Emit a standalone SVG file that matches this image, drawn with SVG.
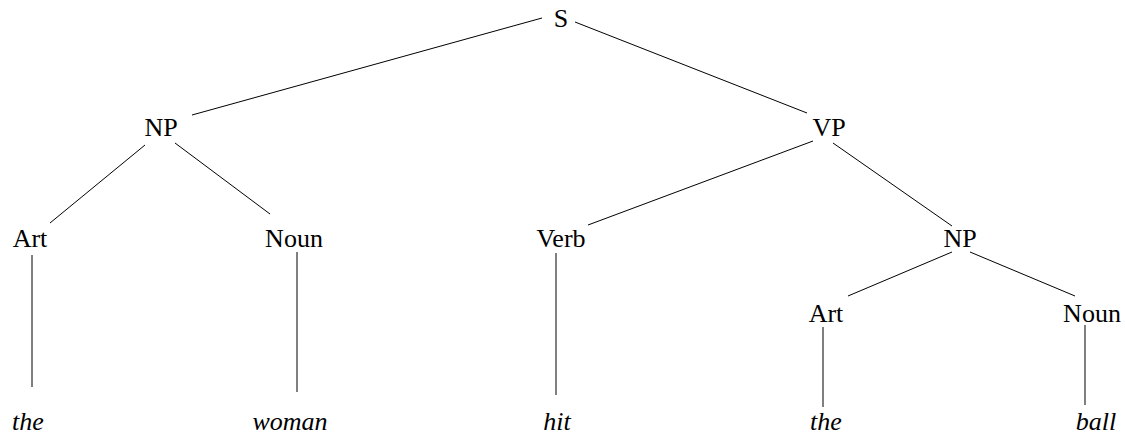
<svg xmlns="http://www.w3.org/2000/svg" width="1125" height="435" viewBox="0 0 1125 435">
<style>
text{font-family:'Liberation Serif','Times New Roman',Times,serif;font-size:26px;fill:#000;text-anchor:middle}
.leaf{font-style:italic}
.edges line{stroke:#000;stroke-width:1}
</style>
<rect width="1125" height="435" fill="#fff"/>
<g class="edges">
<line x1="542" y1="18" x2="192" y2="115"/>
<line x1="575" y1="22" x2="807" y2="113"/>
<line x1="145" y1="145" x2="50" y2="223"/>
<line x1="175" y1="143" x2="270" y2="214"/>
<line x1="813" y1="141" x2="588" y2="225"/>
<line x1="833" y1="143" x2="952" y2="226"/>
<line x1="952" y1="252" x2="848" y2="296"/>
<line x1="970" y1="252" x2="1075" y2="296"/>
<line x1="32" y1="255" x2="32" y2="387"/>
<line x1="297" y1="252" x2="297" y2="392"/>
<line x1="556" y1="253" x2="556" y2="395"/>
<line x1="823" y1="327" x2="823" y2="407"/>
<line x1="1085" y1="325" x2="1085" y2="405"/>
</g>
<g id="S"><text x="561" y="27">S</text></g>
<g id="NP1"><text x="161" y="136">NP</text></g>
<g id="VP"><text x="829" y="136">VP</text></g>
<g id="Art1"><text x="30" y="247">Art</text></g>
<g id="Noun1"><text x="294" y="247">Noun</text></g>
<g id="Verb"><text x="561" y="247">Verb</text></g>
<g id="NP2"><text x="960" y="247">NP</text></g>
<g id="Art2"><text x="826" y="322">Art</text></g>
<g id="Noun2"><text x="1092" y="322">Noun</text></g>
<g id="the1"><text class="leaf" x="28" y="430">the</text></g>
<g id="woman"><text class="leaf" x="290" y="430">woman</text></g>
<g id="hit"><text class="leaf" x="557" y="430">hit</text></g>
<g id="the2"><text class="leaf" x="826" y="430">the</text></g>
<g id="ball"><text class="leaf" x="1096" y="430">ball</text></g>
</svg>
